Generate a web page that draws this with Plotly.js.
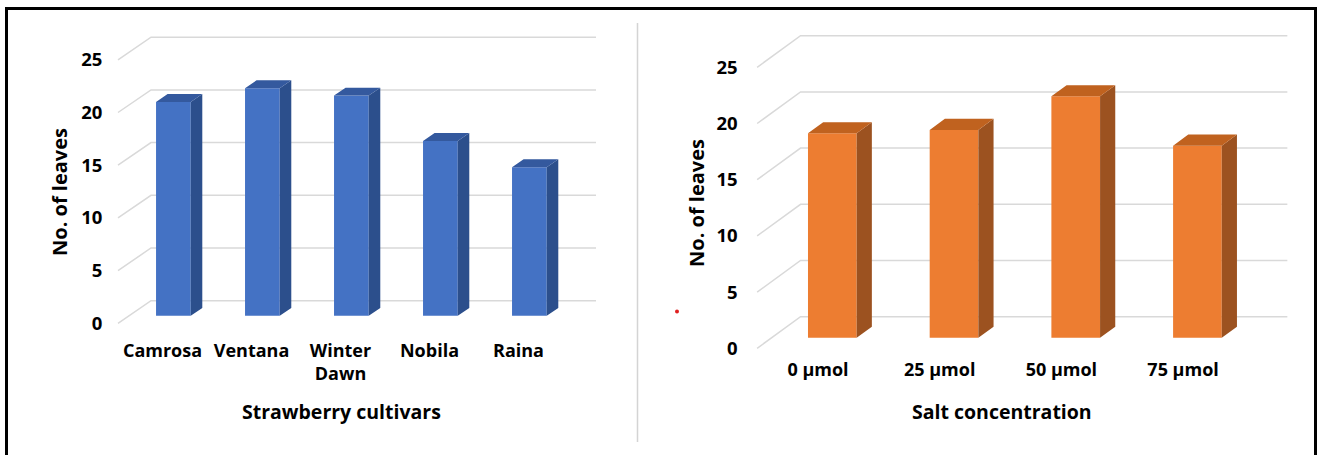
<!DOCTYPE html>
<html><head><meta charset="utf-8">
<script src="https://cdn.plot.ly/plotly-3.0.1.min.js"></script>
<style>html,body{margin:0;padding:0;background:#fff;}#chart{width:1321px;height:455px;}</style>
</head><body><div id="chart"></div>
<script>
// ---- data ----
const cultivars = ['Camrosa', 'Ventana', 'Winter<br>Dawn', 'Nobila', 'Raina'];
const cultivarLeaves = [20.3, 21.6, 20.9, 16.6, 14.1];
const saltLevels = ['0 µmol', '25 µmol', '50 µmol', '75 µmol'];
const saltLeaves = [18.2, 18.5, 21.5, 17.1];
const yTicks = [0, 5, 10, 15, 20, 25];
const yTitle = 'No. of leaves';
const xTitleLeft = 'Strawberry cultivars';
const xTitleRight = 'Salt concentration';

// ---- layout geometry / style ----
const W = 1321, H = 455;
const FONT = 'Open Sans, Noto Sans, Liberation Sans, sans-serif';
const GRID = '#d9d9d9';

const panels = [
  {xa: 'x', ya: 'y', cats: cultivars, vals: cultivarLeaves,
   catPx0: 162.5, catStep: 89, zeroPx: 323.3, unitPx: 10.54,
   xr: [-0.62, 4.9], yr: [-0.6, 28.5], depthPx: [33, 22.6], barW: 0.39,
   front: '#4472c4', side: '#2c4f8c', top: '#34599e', standoff: 8, ystandoff: 4},
  {xa: 'x2', ya: 'y2', cats: saltLevels, vals: saltLeaves,
   catPx0: 818, catStep: 121.7, zeroPx: 348.3, unitPx: 11.24,
   xr: [-0.62, 3.9], yr: [-0.6, 28.5], depthPx: [43.4, 31.6], barW: 0.40,
   front: '#ed7d31', side: '#9c5220', top: '#c0621f', standoff: 2, ystandoff: 4}
];
const D1 = 0.33, D2 = 0.68;

const traces = [];
const shapes = [];
const layout = {
  width: W, height: H, margin: {l: 0, r: 0, t: 0, b: 0},
  paper_bgcolor: '#ffffff', plot_bgcolor: 'rgba(0,0,0,0)',
  showlegend: false, barmode: 'overlay',
  font: {family: FONT, color: '#000'},
  annotations: [], shapes: shapes
};

panels.forEach((p, k) => {
  const n = p.cats.length;
  const idx = p.cats.map((c, i) => i);
  const dX = p.depthPx[0] / p.catStep;
  const dY = p.depthPx[1] / p.unitPx;
  const xd = [(p.catPx0 + p.xr[0] * p.catStep) / W, (p.catPx0 + p.xr[1] * p.catStep) / W];
  const yd = [(H - (p.zeroPx - p.yr[0] * p.unitPx)) / H, (H - (p.zeroPx - p.yr[1] * p.unitPx)) / H];
  const sfx = k === 0 ? '' : '2';
  const tf = {family: FONT, size: 18, color: '#000', weight: 'bold'};
  layout['xaxis' + sfx] = {domain: xd, range: p.xr, tickvals: idx, ticktext: p.cats,
    showgrid: false, zeroline: false, showline: false, ticks: '', tickfont: tf,
    ticklabelstandoff: p.standoff, fixedrange: true, anchor: p.ya};
  layout['yaxis' + sfx] = {domain: yd, range: p.yr, tickvals: yTicks,
    showgrid: false, zeroline: false, showline: false, ticks: '', tickfont: {...tf, size: 18.5},
    ticklabelstandoff: p.ystandoff, fixedrange: true, anchor: p.xa};

  // perspective gridlines (front-left -> back wall)
  const x0 = -0.5, x1 = n - 0.5;
  yTicks.forEach(t => {
    shapes.push({type: 'path', xref: p.xa, yref: p.ya, layer: 'below',
      path: `M ${x0},${t} L ${x0 + dX},${t + dY} L ${x1 + dX},${t + dY}`,
      line: {color: GRID, width: 1.5}});
  });

  const fx = idx.map(i => i + D1 * dX);
  // front faces
  traces.push({type: 'bar', x: fx, y: p.vals, base: D1 * dY, width: p.barW,
    marker: {color: p.front, line: {width: 0}}, xaxis: p.xa, yaxis: p.ya, hoverinfo: 'skip'});
  // side and top faces
  const sx = [], sy = [], tx = [], ty = [];
  idx.forEach(i => {
    const v = p.vals[i];
    const l1 = i + D1 * dX - p.barW / 2, r1 = i + D1 * dX + p.barW / 2;
    const l2 = i + D2 * dX - p.barW / 2, r2 = i + D2 * dX + p.barW / 2;
    const b1 = D1 * dY, b2 = D2 * dY;
    sx.push(r1, r2, r2, r1, r1, null);
    sy.push(b1, b2, v + b2, v + b1, b1, null);
    tx.push(l1, r1, r2, l2, l1, null);
    ty.push(v + b1, v + b1, v + b2, v + b2, v + b1, null);
  });
  traces.push({type: 'scatter', mode: 'lines', x: sx, y: sy, fill: 'toself',
    fillcolor: p.side, line: {width: 0, color: p.side}, xaxis: p.xa, yaxis: p.ya, hoverinfo: 'skip'});
  traces.push({type: 'scatter', mode: 'lines', x: tx, y: ty, fill: 'toself',
    fillcolor: p.top, line: {width: 0, color: p.top}, xaxis: p.xa, yaxis: p.ya, hoverinfo: 'skip'});
});

// axis titles
const titleFont = {family: FONT, size: 19.5, color: '#000', weight: 'bold'};
layout.annotations.push(
  {text: yTitle, xref: 'paper', yref: 'paper', x: 59 / W, y: 1 - 192 / H, textangle: -90,
   showarrow: false, font: {...titleFont, size: 20}, xanchor: 'center', yanchor: 'middle'},
  {text: yTitle, xref: 'paper', yref: 'paper', x: 696 / W, y: 1 - 203 / H, textangle: -90,
   showarrow: false, font: {...titleFont, size: 20}, xanchor: 'center', yanchor: 'middle'},
  {text: xTitleLeft, xref: 'paper', yref: 'paper', x: 341 / W, y: 1 - 411.7 / H,
   showarrow: false, font: titleFont, xanchor: 'center', yanchor: 'middle'},
  {text: xTitleRight, xref: 'paper', yref: 'paper', x: 1001.7 / W, y: 1 - 411.7 / H,
   showarrow: false, font: titleFont, xanchor: 'center', yanchor: 'middle'}
);

// frame, divider, stray dot
shapes.push(
  {type: 'rect', xref: 'paper', yref: 'paper', x0: 6.5 / W, x1: 1315.5 / W, y0: 1 - 470 / H, y1: 1 - 8.5 / H,
   line: {color: '#000', width: 3}, layer: 'above'},
  {type: 'line', xref: 'paper', yref: 'paper', x0: 637.5 / W, x1: 637.5 / W, y0: 1 - 23 / H, y1: 1 - 442 / H,
   line: {color: '#d4d4d4', width: 1.5}},
  {type: 'circle', xref: 'paper', yref: 'paper', x0: 675 / W, x1: 679 / W, y0: 1 - 313.5 / H, y1: 1 - 309.5 / H,
   fillcolor: '#e02020', line: {width: 0}}
);

Plotly.newPlot('chart', traces, layout, {displayModeBar: false, staticPlot: true});
</script>
</body></html>
